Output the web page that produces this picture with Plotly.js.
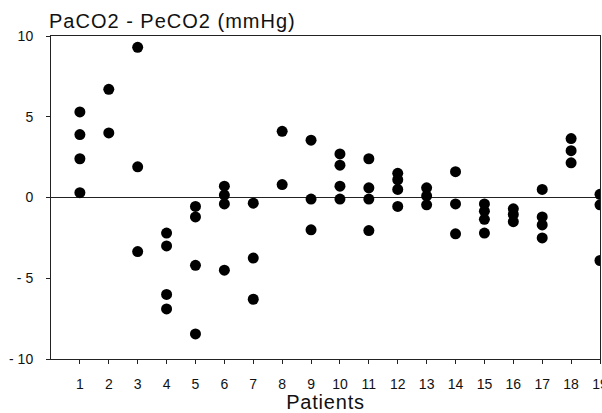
<!DOCTYPE html>
<html>
<head>
<meta charset="utf-8">
<script src="https://cdn.plot.ly/plotly-3.0.1.min.js"></script>
<style>
html,body{margin:0;padding:0;background:#fff;}
#chart{width:602px;height:413px;}
#chart .gtitle{letter-spacing:1px;}
#chart .xtitle{letter-spacing:0.8px;}
</style>
</head>
<body>
<div id="chart"></div>
<script>
// Patient number for each measurement
const patients = [
  1,1,1,1,
  2,2,
  3,3,3,
  4,4,4,4,
  5,5,5,5,
  6,6,6,6,
  7,7,7,
  8,8,
  9,9,9,
  10,10,10,10,
  11,11,11,11,
  12,12,12,12,
  13,13,13,
  14,14,14,
  15,15,15,15,
  16,16,16,
  17,17,17,17,
  18,18,18,
  19,19,19
];
// PaCO2 - PeCO2 difference (mmHg)
const diffs = [
  5.3,3.9,2.4,0.3,
  6.7,4.0,
  9.3,1.9,-3.35,
  -2.2,-3.0,-6.0,-6.9,
  -0.55,-1.2,-4.2,-8.45,
  0.7,0.15,-0.4,-4.5,
  -0.35,-3.75,-6.3,
  4.1,0.8,
  3.55,-0.1,-2.0,
  2.7,2.0,0.7,-0.1,
  2.4,0.6,-0.1,-2.05,
  1.5,1.1,0.5,-0.55,
  0.6,0.1,-0.45,
  1.6,-0.4,-2.25,
  -0.4,-0.85,-1.35,-2.2,
  -0.7,-1.05,-1.5,
  0.5,-1.2,-1.7,-2.5,
  3.65,2.9,2.15,
  0.2,-0.45,-3.9
];
const xTickVals = [1,2,3,4,5,6,7,8,9,10,11,12,13,14,15,16,17,18,19];
const xTickText = ["1","2","3","4","5","6","7","8","9","10","11","12","13","14","15","16","17","18","19"];
const yTickVals = [-10,-5,0,5,10];
const yTickText = ["- 10","- 5","0","5","10"];

const font = "Liberation Sans, Arial, Helvetica, sans-serif";

const trace = {
  x: patients, y: diffs, type: 'scatter', mode: 'markers',
  marker: {color: '#000', size: 11, line: {width: 0}},
  cliponaxis: true, hoverinfo: 'none'
};

const layout = {
  width: 602, height: 413,
  margin: {l: 51, r: 2, t: 36, b: 54},
  paper_bgcolor: '#fff', plot_bgcolor: '#fff',
  showlegend: false,
  font: {family: font, color: '#111', size: 14},
  title: {
    text: 'PaCO2 - PeCO2 (mmHg)',
    font: {family: font, size: 20, color: '#111'},
    xref: 'container', yref: 'container',
    x: 49 / 602, xanchor: 'left',
    y: 1 - 21 / 413, yanchor: 'middle',
    pad: {t: 0, b: 0, l: 0, r: 0}
  },
  xaxis: {
    range: [0, 19], tickvals: xTickVals, ticktext: xTickText,
    ticks: 'outside', ticklen: 4, tickwidth: 1, tickcolor: '#222',
    showline: true, linecolor: '#222', linewidth: 1, mirror: true,
    showgrid: false, zeroline: false,
    ticklabelstandoff: 8,
    ticklabeloverflow: 'allow',
    tickfont: {family: font, size: 14, color: '#111'},
    title: {text: 'Patients', font: {family: font, size: 20, color: '#111'}, standoff: 0}
  },
  yaxis: {
    range: [-10, 10], tickvals: yTickVals, ticktext: yTickText,
    ticks: 'outside', ticklen: 4, tickwidth: 1, tickcolor: '#222',
    showline: true, linecolor: '#222', linewidth: 1, mirror: true,
    showgrid: false,
    zeroline: true, zerolinecolor: '#222', zerolinewidth: 1,
    ticklabelstandoff: 10,
    tickfont: {family: font, size: 14, color: '#111'}
  }
};

Plotly.newPlot('chart', [trace], layout, {staticPlot: true, displayModeBar: false});
</script>
</body>
</html>
